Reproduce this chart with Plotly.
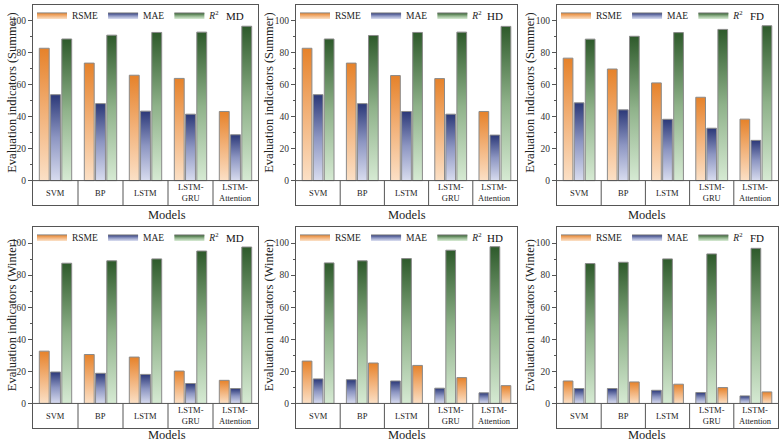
import plotly.graph_objects as go

FONT = "Liberation Serif, Times New Roman, serif"

# ---------------- data ----------------
MODELS = ["SVM", "BP", "LSTM", "LSTM-<br>GRU", "LSTM-<br>Attention"]
METRICS = ["RSME", "MAE", "R2"]
METRIC_LABELS = {"RSME": "RSME", "MAE": "MAE", "R2": "<i>R</i><sup>2</sup>"}

MD_SUMMER_RSME = [82.9, 73.6, 66.0, 64.0, 43.3]
MD_SUMMER_MAE = [53.8, 48.2, 43.5, 41.6, 28.7]
MD_SUMMER_R2 = [88.7, 91.1, 92.8, 93.0, 96.7]

HD_SUMMER_RSME = [82.9, 73.6, 65.8, 63.9, 43.3]
HD_SUMMER_MAE = [53.8, 48.2, 43.3, 41.6, 28.5]
HD_SUMMER_R2 = [88.7, 90.9, 92.8, 93.0, 96.6]

FD_SUMMER_RSME = [76.7, 69.9, 61.2, 52.2, 38.5]
FD_SUMMER_MAE = [48.7, 44.3, 38.4, 32.8, 25.2]
FD_SUMMER_R2 = [88.6, 90.4, 92.7, 94.7, 97.0]

MD_WINTER_RSME = [32.6, 30.5, 28.9, 20.2, 14.4]
MD_WINTER_MAE = [19.6, 18.8, 18.1, 12.4, 9.3]
MD_WINTER_R2 = [87.4, 88.9, 90.1, 95.0, 97.5]

HD_WINTER_RSME = [26.4, 25.2, 23.7, 16.1, 11.1]
HD_WINTER_MAE = [15.3, 14.8, 14.0, 9.5, 6.6]
HD_WINTER_R2 = [87.6, 88.9, 90.3, 95.5, 97.7]

FD_WINTER_RSME = [14.0, 13.4, 12.0, 9.9, 7.2]
FD_WINTER_MAE = [9.3, 9.3, 8.2, 6.8, 4.7]
FD_WINTER_R2 = [87.2, 88.0, 90.1, 93.2, 96.7]

PANELS = [
    ("MD", "Summer", {"RSME": MD_SUMMER_RSME, "MAE": MD_SUMMER_MAE, "R2": MD_SUMMER_R2}),
    ("HD", "Summer", {"RSME": HD_SUMMER_RSME, "MAE": HD_SUMMER_MAE, "R2": HD_SUMMER_R2}),
    ("FD", "Summer", {"RSME": FD_SUMMER_RSME, "MAE": FD_SUMMER_MAE, "R2": FD_SUMMER_R2}),
    ("MD", "Winter", {"RSME": MD_WINTER_RSME, "MAE": MD_WINTER_MAE, "R2": MD_WINTER_R2}),
    ("HD", "Winter", {"RSME": HD_WINTER_RSME, "MAE": HD_WINTER_MAE, "R2": HD_WINTER_R2}),
    ("FD", "Winter", {"RSME": FD_WINTER_RSME, "MAE": FD_WINTER_MAE, "R2": FD_WINTER_R2}),
]

# bar order within each model group (as drawn in the original)
STD_ORDER = ["RSME", "MAE", "R2"]
ALT_ORDER = ["MAE", "R2", "RSME"]
BAR_ORDER = [
    [STD_ORDER] * 5,
    [STD_ORDER] * 5,
    [STD_ORDER] * 5,
    [STD_ORDER] * 5,
    [STD_ORDER] + [ALT_ORDER] * 4,
    [STD_ORDER] + [ALT_ORDER] * 4,
]

# ---------------- style ----------------
GRADIENTS = {
    "RSME": [[0, "#fbe0c6"], [0.5, "#f2b27a"], [1, "#e6822a"]],
    "MAE": [[0, "#d8dcef"], [0.5, "#8d96c2"], [1, "#2b3878"]],
    "R2": [[0, "#d6ead3"], [0.5, "#8fb28a"], [1, "#2e5a2b"]],
}
EDGE = "#8a8a8a"
AXC = "#555555"
BAR_W = 0.22
SLOT = 0.25
YMIN, YMAX = -15.4, 110

W, H = 779, 444
X_DOMS = [(33, 258), (296, 517), (557, 778)]
Y_DOMS = [(1, 203), (225, 428)]
YTITLE_X = [12, 269, 530]
LEG_Y = [11, 235]


def px_x(p):
    return p / W


def px_y(p):
    return 1 - p / H


fig = go.Figure()
layout = {}
annotations = []
shapes = []

for k, (site, season, vals) in enumerate(PANELS):
    col, row = k % 3, k // 3
    sfx = "" if k == 0 else str(k + 1)
    xa, ya = "x" + sfx, "y" + sfx
    leg = "legend" + sfx
    for m in METRICS:
        for i in range(len(MODELS)):
            slot = BAR_ORDER[k][i].index(m)
            cx = i + (slot - 1) * SLOT
            v = vals[m][i]
            x0, x1 = cx - BAR_W / 2, cx + BAR_W / 2
            fig.add_trace(go.Scatter(
                x=[x0, x0, x1, x1, x0], y=[0, v, v, 0, 0],
                mode="lines", fill="toself",
                fillgradient=dict(type="vertical", colorscale=GRADIENTS[m]),
                line=dict(color=EDGE, width=1),
                name=METRIC_LABELS[m], legendgroup=m + sfx,
                showlegend=(i == 0), legend=leg,
                xaxis=xa, yaxis=ya, hoverinfo="skip",
            ))
    xd, yd = X_DOMS[col], Y_DOMS[row]
    layout["xaxis" + sfx] = dict(
        domain=[px_x(xd[0]), px_x(xd[1])], range=[-0.5, 4.5], anchor=ya,
        showline=True, mirror=True, linecolor=AXC, linewidth=1,
        showticklabels=False, ticks="", showgrid=False, zeroline=False, fixedrange=True,
    )
    layout["yaxis" + sfx] = dict(
        domain=[px_y(yd[1]), px_y(yd[0])], range=[YMIN, YMAX], anchor=xa,
        showline=True, mirror=True, linecolor=AXC, linewidth=1,
        tickvals=[0, 20, 40, 60, 80, 100], ticks="outside", ticklen=4, tickcolor=AXC,
        minor=dict(tickvals=[10, 30, 50, 70, 90], ticks="outside", ticklen=2, tickcolor=AXC),
        tickfont=dict(family=FONT, size=9.5, color="#333"),
        showgrid=False, zeroline=False, fixedrange=True,
    )
    layout[leg] = dict(
        x=px_x(xd[0] - 1), y=px_y(LEG_Y[row]), xanchor="left", yanchor="middle",
        orientation="h", bgcolor="rgba(0,0,0,0)", borderwidth=0,
        font=dict(family=FONT, size=9.5, color="#222"),
        itemwidth=30, tracegroupgap=0,
    )
    # category table
    shapes.append(dict(type="line", xref=xa, yref=ya, x0=-0.5, x1=4.5, y0=0, y1=0,
                       line=dict(color=AXC, width=1)))
    for b in range(1, len(MODELS)):
        shapes.append(dict(type="line", xref=xa, yref=ya, x0=b - 0.5, x1=b - 0.5,
                           y0=YMIN, y1=0, line=dict(color=AXC, width=1)))
    for i, name in enumerate(MODELS):
        annotations.append(dict(x=i, y=YMIN / 2, xref=xa, yref=ya, text=name,
                                showarrow=False, font=dict(family=FONT, size=8.5, color="#222")))
    annotations.append(dict(x=0.945, y=0.945, xref=xa + " domain", yref=ya + " domain",
                            text=site, xanchor="right", yanchor="middle", showarrow=False,
                            font=dict(family=FONT, size=11, color="#111")))
    if row == 0:
        my, manc = px_y(213), "middle"
    else:
        my, manc = 0.0, "bottom"
    annotations.append(dict(x=px_x((xd[0] + xd[1]) / 2), y=my, xref="paper",
                            yref="paper", text="Models", showarrow=False, yanchor=manc,
                            font=dict(family=FONT, size=12.5, color="#222")))
    annotations.append(dict(x=px_x(YTITLE_X[col]), y=55, xref="paper", yref=ya,
                            text=f"Evaluation indicators ({season})", textangle=-90,
                            showarrow=False, xanchor="center", yanchor="middle",
                            font=dict(family=FONT, size=12.5, color="#222")))

fig.update_layout(
    width=W, height=H, margin=dict(l=0, r=0, t=0, b=0),
    paper_bgcolor="white", plot_bgcolor="white",
    annotations=annotations, shapes=shapes, **layout,
)
fig.write_html("out.html", config={"displayModeBar": False})
